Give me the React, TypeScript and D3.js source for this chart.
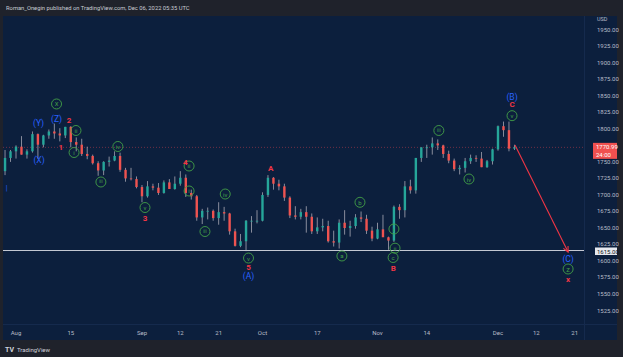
import React from "react";
import * as d3 from "d3";

const W = 623;
const H = 357;

// Daily candles (XAUUSD-like)
const candleDates = [
  "2022-07-28","2022-07-29","2022-08-01","2022-08-02","2022-08-03","2022-08-04","2022-08-05",
  "2022-08-08","2022-08-09","2022-08-10","2022-08-11","2022-08-12","2022-08-15","2022-08-16",
  "2022-08-17","2022-08-18","2022-08-19","2022-08-22","2022-08-23","2022-08-24","2022-08-25",
  "2022-08-26","2022-08-29","2022-08-30","2022-08-31","2022-09-01","2022-09-02","2022-09-05",
  "2022-09-06","2022-09-07","2022-09-08","2022-09-09","2022-09-12","2022-09-13","2022-09-14",
  "2022-09-15","2022-09-16","2022-09-19","2022-09-20","2022-09-21","2022-09-22","2022-09-23",
  "2022-09-26","2022-09-27","2022-09-28","2022-09-29","2022-09-30","2022-10-03","2022-10-04",
  "2022-10-05","2022-10-06","2022-10-07","2022-10-10","2022-10-11","2022-10-12","2022-10-13",
  "2022-10-14","2022-10-17","2022-10-18","2022-10-19","2022-10-20","2022-10-21","2022-10-24",
  "2022-10-25","2022-10-26","2022-10-27","2022-10-28","2022-10-31","2022-11-01","2022-11-02",
  "2022-11-03","2022-11-04","2022-11-07","2022-11-08","2022-11-09","2022-11-10","2022-11-11",
  "2022-11-14","2022-11-15","2022-11-16","2022-11-17","2022-11-18","2022-11-21","2022-11-22",
  "2022-11-23","2022-11-24","2022-11-25","2022-11-28","2022-11-29","2022-11-30","2022-12-01",
  "2022-12-02","2022-12-05","2022-12-06",
];
const opens = [
  1735,1755,1765,1772,1760,1765,1791,1775,1789,1795,1792,1789,1802,1779,1775,1761,1758,1747,1736,1749,1751,
  1758,1737,1724,1723,1711,1697,1712,1710,1702,1718,1708,1716,1725,1702,1697,1665,1675,1675,1664,1673,1671,
  1644,1622,1629,1660,1660,1660,1699,1725,1716,1712,1695,1668,1666,1673,1666,1644,1650,1652,1629,1627,1657,
  1649,1652,1665,1663,1645,1633,1647,1635,1630,1681,1676,1712,1706,1755,1771,1771,1777,1774,1761,1751,1738,
  1740,1750,1755,1754,1741,1750,1768,1803,1797,1769,
];
const highs = [
  1767,1767,1774,1788,1768,1795,1792,1790,1798,1807,1800,1802,1803,1786,1784,1772,1760,1750,1750,1757,1765,
  1763,1740,1740,1727,1714,1720,1716,1717,1721,1723,1727,1735,1730,1707,1699,1678,1680,1677,1688,1681,1672,
  1648,1640,1661,1667,1676,1703,1729,1726,1722,1716,1697,1682,1678,1682,1671,1665,1663,1660,1645,1662,1676,
  1660,1670,1674,1669,1651,1657,1669,1636,1683,1685,1720,1722,1755,1771,1775,1786,1783,1775,1766,1754,1744,
  1755,1760,1759,1764,1752,1769,1804,1810,1810,1775,
];
const lows = [
  1729,1749,1754,1760,1754,1763,1754,1771,1784,1784,1780,1785,1771,1765,1758,1753,1745,1728,1729,1742,1750,
  1734,1719,1721,1709,1688,1695,1706,1699,1701,1708,1707,1713,1696,1692,1660,1655,1662,1660,1654,1660,1639,
  1621,1620,1614,1642,1656,1659,1696,1707,1706,1690,1664,1662,1662,1642,1640,1640,1644,1627,1621,1618,1639,
  1636,1648,1658,1640,1629,1632,1636,1616,1628,1663,1665,1701,1701,1749,1755,1760,1767,1755,1747,1735,1730,
  1733,1746,1749,1741,1740,1745,1766,1787,1765,1767,
];
const closes = [
  1755,1765,1772,1760,1765,1791,1775,1789,1795,1792,1789,1802,1779,1775,1761,1758,1747,1736,1749,1751,1758,
  1737,1724,1723,1711,1697,1712,1710,1702,1718,1708,1716,1725,1702,1697,1665,1675,1675,1664,1673,1671,1644,
  1622,1629,1660,1660,1660,1699,1725,1716,1712,1695,1668,1666,1673,1666,1644,1650,1652,1629,1627,1657,1649,
  1652,1665,1663,1645,1633,1647,1635,1630,1681,1676,1712,1706,1755,1771,1771,1777,1774,1761,1751,1738,1740,
  1750,1755,1754,1741,1750,1768,1803,1797,1769,1771,
];

const priceTicks = d3.range(1525, 1951, 25);
const timeTickLabels = ["Aug", "15", "Sep", "12", "21", "Oct", "17", "Nov", "14", "Dec", "12", "21"];
const timeTickDates = [
  "2022-08-01","2022-08-15","2022-09-01","2022-09-12","2022-09-21","2022-10-03",
  "2022-10-17","2022-11-01","2022-11-14","2022-12-01","2022-12-12","2022-12-21",
];

// Wave annotations: [text, trading-day index, price]
const circleLabels: [string, number, number][] = [
  ["X", 7.4, 1836.6], ["ii", 10.95, 1796.5], ["i", 10.6, 1763.2], ["iii", 15.5, 1718.6],
  ["iv", 18.6, 1772.3], ["v", 23.55, 1680.0], ["ii", 31.6, 1742.8], ["i", 31.6, 1705.0],
  ["iii", 34.5, 1643.7], ["iv", 38.2, 1700.4], ["v", 42.45, 1603.6], ["a", 59.5, 1606.7],
  ["b", 62.8, 1687.9], ["i", 69.0, 1647.5], ["ii", 69.2, 1618.5], ["c", 68.85, 1604.4],
  ["iii", 77.2, 1796.5], ["iv", 82.7, 1723.1], ["v", 90.56, 1818.9], ["Z", 100.8, 1587.0],
];
const blueLabels: [string, number, number][] = [
  ["(Y)", 4.1, 1807.1], ["(X)", 4.2, 1751.9], ["(Z)", 7.4, 1814.6],
  ["(A)", 42.45, 1576.4], ["(B)", 90.56, 1847.9], ["(C)", 100.8, 1602.1],
];
const redLabels: [string, number, number][] = [
  ["2", 9.7, 1810.9], ["1", 8.2, 1771.5], ["3", 23.55, 1664.1], ["4", 30.9, 1748.1],
  ["5", 42.45, 1590.0], ["A", 46.5, 1738.3], ["B", 68.9, 1588.5], ["C", 90.56, 1835.1],
  ["x", 100.8, 1570.4],
];
const projectionFrom: [number, number] = [91.1, 1774.6];
const projectionTo: [number, number] = [100.8, 1612.7];

const supportLevel = 1615;
const lastPrice = 1770.99;
const countdown = "24:00";

const DAY = 86400000;
const BASE = Date.UTC(2022, 7, 1);
function countWeekdays(a: number, b: number) {
  let n = 0;
  for (let d = a; d < b; d += DAY) {
    const w = new Date(d).getUTCDay();
    if (w !== 0 && w !== 6) n++;
  }
  return n;
}
function tradingIndex(s: string) {
  const t = Date.parse(s + "T00:00:00Z");
  return t >= BASE ? countWeekdays(BASE, t) : -countWeekdays(t, BASE);
}

const FONT = "Roboto, 'Liberation Sans', sans-serif";

export default function App() {
  const x = d3.scaleLinear().domain([0, 88]).range([16, 498]);
  const y = d3.scaleLinear().domain([1525, 1950]).range([310, 29]);

  const paneL = 3, paneR = 584, paneT = 16, paneB = 324;
  const up = "#26a69a", down = "#ef5350";
  const bw = 2.4;

  const candles = candleDates.map((d, i) => ({
    i: tradingIndex(d), o: opens[i], h: highs[i], l: lows[i], c: closes[i],
  }));

  const green = "#43a047";
  const blue = "#2962ff";
  const red = "#f23645";

  const [ax, ay] = [x(projectionFrom[0]), y(projectionFrom[1])];
  const [bx, by] = [x(projectionTo[0]), y(projectionTo[1])];
  const ang = Math.atan2(by - ay, bx - ax);
  const ah = 6;
  const head = [ang + Math.PI - 0.45, ang + Math.PI + 0.45].map(a => [bx + ah * Math.cos(a), by + ah * Math.sin(a)]);

  const boxTop = y(lastPrice) - 4.5;
  const boxBot = boxTop + 16;
  const visibleTicks = priceTicks.filter(v => {
    const yy = y(v);
    return !(yy > boxTop - 3 && yy < boxBot + 1);
  });

  return (
    <svg width={W} height={H} style={{ position: "absolute", left: 0, top: 0, display: "block" }} fontFamily={FONT}>
      <rect x={0} y={0} width={W} height={H} fill="#1f222b" />
      <text x={6} y={9.5} fontSize={5.8} fill="#c9ccd4">Roman_Onegin published on TradingView.com, Dec 06, 2022 05:35 UTC</text>
      <rect x={paneL} y={paneT} width={617 - paneL} height={340 - paneT} fill="#0c1f3d" />
      <line x1={paneL} x2={617} y1={paneB + 0.5} y2={paneB + 0.5} stroke="#152a4d" strokeWidth={1} />
      <line x1={paneR + 0.5} x2={paneR + 0.5} y1={paneT} y2={340} stroke="#152a4d" strokeWidth={1} />

      {/* last price dotted line */}
      <line x1={paneL} x2={paneR} y1={y(lastPrice)} y2={y(lastPrice)} stroke="#a8384a" strokeWidth={0.8} strokeDasharray="1 2" opacity={0.8} />

      {/* candles */}
      <g>
        {candles.map((k, j) => {
          const cx = x(k.i);
          const col = k.c >= k.o ? up : down;
          const top = y(Math.max(k.o, k.c));
          const bot = y(Math.min(k.o, k.c));
          return (
            <g key={j}>
              <line x1={cx} x2={cx} y1={y(k.h)} y2={y(k.l)} stroke="#c7c3cc" strokeWidth={0.8} opacity={0.85} />
              <rect x={cx - bw / 2} y={top} width={bw} height={Math.max(0.8, bot - top)} fill={col} />
            </g>
          );
        })}
      </g>

      {/* support line */}
      <line x1={paneL} x2={paneR} y1={y(supportLevel)} y2={y(supportLevel)} stroke="#c4c8d2" strokeWidth={1.2} />

      {/* projection arrow */}
      <line x1={ax} y1={ay} x2={bx} y2={by} stroke={red} strokeWidth={1.1} />
      <polyline points={`${head[0][0]},${head[0][1]} ${bx},${by} ${head[1][0]},${head[1][1]}`} fill="none" stroke={red} strokeWidth={1.1} />

      {/* wave labels */}
      {circleLabels.map(([t, i, p], j) => (
        <g key={"c" + j}>
          <circle cx={x(i)} cy={y(p)} r={5} fill="none" stroke={green} strokeWidth={0.9} />
          <text x={x(i)} y={y(p)} fontSize={t.length > 2 ? 4.8 : 6} fill={green} textAnchor="middle" dominantBaseline="central">{t}</text>
        </g>
      ))}
      {blueLabels.map(([t, i, p], j) => (
        <text key={"b" + j} x={x(i)} y={y(p)} fontSize={8.5} fill={blue} textAnchor="middle" dominantBaseline="central">{t}</text>
      ))}
      {redLabels.map(([t, i, p], j) => (
        <text key={"r" + j} x={x(i)} y={y(p)} fontSize={8} fontWeight="bold" fill={red} textAnchor="middle" dominantBaseline="central">{t}</text>
      ))}
      <text x={6.5} y={188} fontSize={7} fill={blue} textAnchor="middle" dominantBaseline="central">|</text>

      {/* price axis */}
      <text x={597} y={21} fontSize={5.5} fill="#b8bcc8">USD</text>
      {visibleTicks.map(v => (
        <text key={v} x={597} y={y(v)} fontSize={6} fill="#b8bcc8" dominantBaseline="central">{v.toFixed(2)}</text>
      ))}
      <rect x={593} y={boxTop} width={24} height={16} fill="#f0504f" />
      <text x={596} y={y(lastPrice) - 0.5} fontSize={6} fill="#ffffff" dominantBaseline="central">{lastPrice.toFixed(2)}</text>
      <text x={596} y={y(lastPrice) + 7} fontSize={6} fill="#ffffff" dominantBaseline="central">{countdown}</text>
      <rect x={595} y={y(supportLevel) - 3} width={22} height={7.5} fill="#e6e8ee" />
      <text x={597} y={y(supportLevel) + 0.8} fontSize={6} fill="#131722" dominantBaseline="central">{supportLevel.toFixed(2)}</text>

      {/* time axis */}
      {timeTickLabels.map((t, j) => (
        <text key={j} x={x(tradingIndex(timeTickDates[j]))} y={332} fontSize={6} fill="#b8bcc8" textAnchor="middle" dominantBaseline="central">{t}</text>
      ))}

      {/* footer */}
      <text x={5} y={349.5} fontSize={7} fontWeight="bold" fill="#d1d4dc" dominantBaseline="central">TV</text>
      <text x={17} y={349.5} fontSize={6} fill="#d1d4dc" dominantBaseline="central">TradingView</text>
    </svg>
  );
}
